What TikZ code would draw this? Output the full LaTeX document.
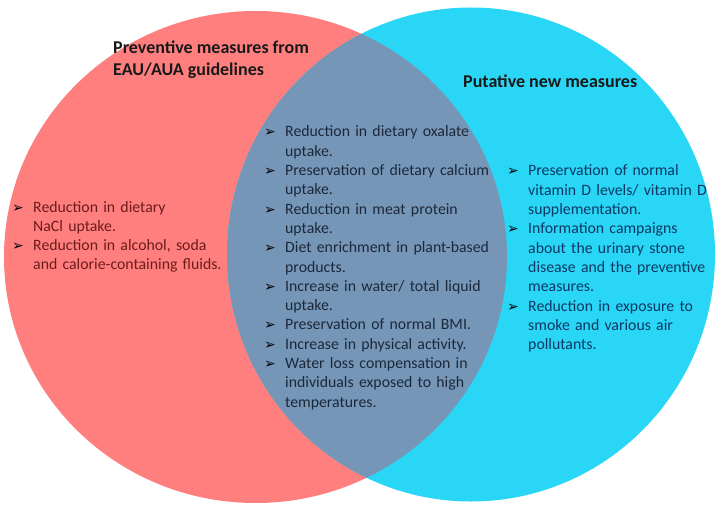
\documentclass[tikz,border=0pt]{standalone}
\usepackage{fontspec}
\setmainfont{Carlito}
\newfontfamily\arrowfont{DejaVu Sans}
\usepackage{tikz}
\usetikzlibrary{positioning}

\definecolor{venred}{RGB}{255,127,127}
\definecolor{vencyan}{RGB}{41,214,246}
\definecolor{venboth}{RGB}{118,150,184}
\definecolor{redtext}{RGB}{110,27,27}
\definecolor{bothtext}{RGB}{28,40,58}
\definecolor{cyantext}{RGB}{14,56,100}

\newcommand{\bul}{\makebox[21pt][l]{\raisebox{0pt}{\arrowfont\fontsize{14}{14}\selectfont\color{black}➢}}}
\newcommand{\ind}{\hspace*{21pt}}

\tikzset{
	itemlist/.style={anchor=base west,inner sep=0pt,text width=260pt,align=left,font=\fontsize{15.8}{19.3}\selectfont},
	heading/.style={anchor=base west,inner sep=0pt,align=left,font=\bfseries\fontsize{18}{22}\selectfont}
}

\begin{document}
\begin{tikzpicture}[x=1pt,y=-1pt]
	\useasboundingbox (0,0) rectangle (725,513);
	
	% Circles
	\fill[venred] (255.5,257) ellipse [x radius=251.5,y radius=246];
	\fill[vencyan] (471,254.5) ellipse [x radius=244,y radius=247];
	\begin{scope}
		\clip (255.5,257) ellipse [x radius=251.5,y radius=246];
		\fill[venboth] (471,254.5) ellipse [x radius=244,y radius=247];
	\end{scope}
	
	% Headings
	\node (guideTitle) at (113,76) [heading,text=black!90] {Preventive measures from\\EAU/AUA guidelines};
	\node (newTitle) at (463,88) [heading,text=black!90] {Putative new measures};
	
	% Guidelines only
	\node (guideList) at (12,212) [itemlist,text=redtext] {\bul Reduction in dietary\\
		\ind NaCl uptake.\\
		\bul Reduction in alcohol, soda\\
		\ind and calorie-containing fluids.};
	
	% Both
	\node (bothList) at (264,137) [itemlist,text=bothtext] {\bul Reduction in dietary oxalate\\
		\ind uptake.\\
		\bul Preservation of dietary calcium\\
		\ind uptake.\\
		\bul Reduction in meat protein\\
		\ind uptake.\\
		\bul Diet enrichment in plant-based\\
		\ind products.\\
		\bul Increase in water/ total liquid\\
		\ind uptake.\\
		\bul Preservation of normal BMI.\\
		\bul Increase in physical activity.\\
		\bul Water loss compensation in\\
		\ind individuals exposed to high\\
		\ind temperatures.};
	
	% New only
	\node (newList) at (507,176) [itemlist,text=cyantext] {\bul Preservation of normal\\
		\ind vitamin D levels/ vitamin D\\
		\ind supplementation.\\
		\bul Information campaigns\\
		\ind about the urinary stone\\
		\ind disease and the preventive\\
		\ind measures.\\
		\bul Reduction in exposure to\\
		\ind smoke and various air\\
		\ind pollutants.};
\end{tikzpicture}
\end{document}
